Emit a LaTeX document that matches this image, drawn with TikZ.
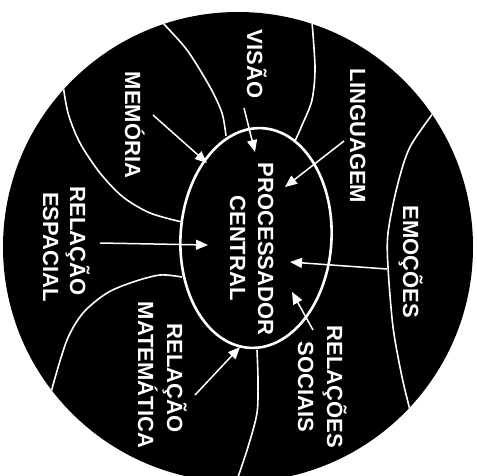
\documentclass[tikz,border=0pt]{standalone}
\usepackage{fontspec}
\setmainfont{Liberation Sans}
\usetikzlibrary{arrows.meta,shapes.geometric}
\begin{document}
\begin{tikzpicture}[x=1pt,y=-1pt,
  lbl/.style={text=white, font=\fontsize{22}{26}\selectfont\bfseries, rotate=-90, anchor=base, inner sep=0pt},
  divider/.style={white, line width=1.6pt},
  feed/.style={white, line width=1.5pt, -{Triangle[length=12pt,width=10pt]}},
  cpubox/.style={ellipse, draw=white, line width=2.6pt, minimum width=151pt, minimum height=220pt, inner sep=0pt}]
\useasboundingbox (0,0) rectangle (477,475);
\fill[black] (238,247) circle[radius=235pt];
\begin{scope}
  \clip (238,247) circle[radius=235pt];
  \draw[divider] plot[smooth] coordinates {(156,14) (163,23) (187,50) (210,87) (222,113) (226,136)};
  \draw[divider] plot[smooth] coordinates {(311,10) (315,67) (312,100) (303,123) (295,141)};
  \draw[divider] plot[smooth] coordinates {(62,78) (68,113) (80,143) (100,173) (123,197) (150,213) (182,222)};
  \draw[divider] plot[smooth] coordinates {(182,277) (160,275) (133,282) (107,293) (83,313) (67,340) (53,385) (51,396)};
  \draw[divider] plot[smooth] coordinates {(257,350) (258,380) (257,413) (248,447) (237,480)};
  \draw[divider] plot[smooth] coordinates {(437,108) (410,147) (397,187) (388,233) (388,267) (393,327) (402,377) (411,414)};
\end{scope}
\node[cpubox, rotate=-3.4] (cpu) at (256,238) {};
% labels
\node[lbl] (visao) at (247,64) {VISÃO};
\node[lbl] (memoria) at (125,125) {MEMÓRIA};
\node[lbl] (linguagem) at (350,136) {LINGUAGEM};
\node[lbl] (proc1) at (258,249) {PROCESSADOR};
\node[lbl] (proc2) at (230,248) {CENTRAL};
\node[lbl] (esp1) at (70,241) {RELAÇÃO};
\node[lbl] (esp2) at (43,247) {ESPACIAL};
\node[lbl] (emocoes) at (403,262) {EMOÇÕES};
\node[lbl] (soc1) at (327,387) {RELAÇÕES};
\node[lbl] (soc2) at (298,387) {SOCIAIS};
\node[lbl] (mat1) at (167,378) {RELAÇÃO};
\node[lbl] (mat2) at (138,375) {MATEMÁTICA};
% arrow ends
\coordinate (memS) at (153,115); \coordinate (memT) at (207,163);
\coordinate (visS) at (244,108); \coordinate (visT) at (255,152);
\coordinate (linS) at (344,141); \coordinate (linT) at (285,187);
\coordinate (espS) at (100,243); \coordinate (espT) at (208,245);
\coordinate (emoS) at (387,269); \coordinate (emoT) at (290,262);
\coordinate (socS) at (313,330); \coordinate (socT) at (292,292);
\coordinate (matS) at (195,395); \coordinate (matT) at (240,347);
\draw[feed] (memS) -- (memT);
\draw[feed] (visS) -- (visT);
\draw[feed] (linS) -- (linT);
\draw[feed] (espS) -- (espT);
\draw[feed] (emoS) -- (emoT);
\draw[feed] (socS) -- (socT);
\draw[feed] (matS) -- (matT);
\end{tikzpicture}
\end{document}
